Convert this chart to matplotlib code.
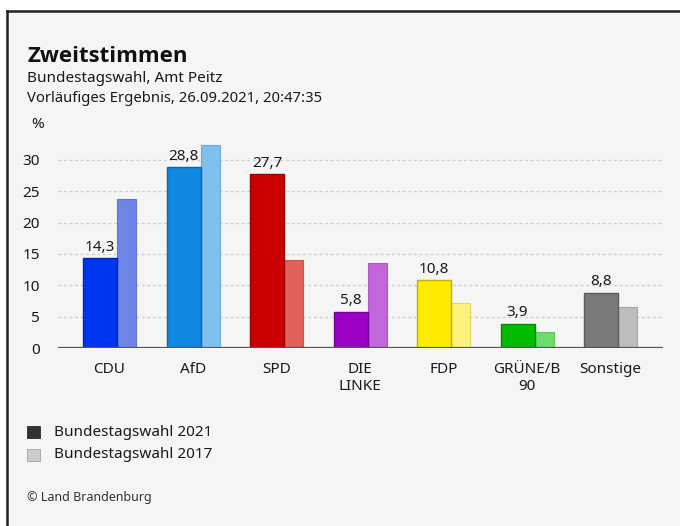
import matplotlib
matplotlib.use("Agg")
import matplotlib.pyplot as plt
import matplotlib.colors as mcolors
from matplotlib.patches import Rectangle
from matplotlib.lines import Line2D
import numpy as np

parties = ["CDU", "AfD", "SPD", "DIE\nLINKE", "FDP", "GRÜNE/B\n90", "Sonstige"]
votes_2021 = [14.3, 28.8, 27.7, 5.8, 10.8, 3.9, 8.8]
votes_2017 = [23.7, 32.4, 14.1, 13.6, 7.2, 2.5, 6.6]
labels_2021 = ["14,3", "28,8", "27,7", "5,8", "10,8", "3,9", "8,8"]
colors_2021 = ["#0035f0", "#1088df", "#cc0000", "#9a00c6", "#ffeb00", "#00bb00", "#7a7a7a"]
colors_2017 = ["#6e85e6", "#80c0ee", "#e0605a", "#c266dc", "#fff17a", "#6cdc6c", "#bdbdbd"]
yticks = [0, 5, 10, 15, 20, 25, 30]

plt.rcParams["font.family"] = ["Noto Sans", "DejaVu Sans"]
W, H = 680, 526
fig = plt.figure(figsize=(W / 100, H / 100), dpi=100, facecolor="white")

# panel background + frame (top and left edges only)
fig.patches.append(Rectangle((7 / W, 0), 1 - 7 / W, 1 - 11 / H, transform=fig.transFigure,
                             facecolor="#f5f5f5", edgecolor="none", zorder=-10))
fig.lines.append(Line2D([7 / W, 1], [1 - 11 / H] * 2, transform=fig.transFigure, color="#222222", lw=1.8))
fig.lines.append(Line2D([7 / W] * 2, [0, 1 - 11 / H], transform=fig.transFigure, color="#222222", lw=1.8))


def darker(c, f=0.75):
    r, g, b = mcolors.to_rgb(c)
    return (r * f, g * f, b * f)


px = 6.27  # pixels per percent
ymax = 33
ax = fig.add_axes([58 / W, 1 - 348 / H, 605 / W, ymax * px / H])
ax.set_facecolor("none")
ax.set_xlim(-0.617, -0.617 + 605 / 83.5)
ax.set_ylim(0, ymax)

x = np.arange(len(parties))
w21, w17 = 0.407, 0.228
for i in range(len(parties)):
    ax.bar(x[i] - 0.317, votes_2021[i], width=w21, align="edge", color=colors_2021[i],
           edgecolor=darker(colors_2021[i]), lw=1, zorder=3)
    ax.bar(x[i] + 0.090, votes_2017[i], width=w17, align="edge", color=colors_2017[i],
           edgecolor=darker(colors_2017[i], 0.88), lw=0.8, zorder=2)
    ax.text(x[i] - 0.317 + w21 / 2, votes_2021[i] + 0.6, labels_2021[i], ha="center", va="bottom",
            fontsize=11, color="#1a1a1a", zorder=4)

for t in yticks[1:]:
    ax.axhline(t, color="#cfcfcf", lw=1, ls=(0, (2, 2)), zorder=1)
ax.axhline(0, color="#555555", lw=1.6, zorder=4)

for s in ax.spines.values():
    s.set_visible(False)
ax.set_yticks(yticks)
ax.set_yticklabels([str(t) for t in yticks], fontsize=11, color="#1a1a1a")
ax.tick_params(axis="y", length=0, pad=13)
ax.set_xticks(x)
ax.set_xticklabels(parties, fontsize=11, color="#1a1a1a", linespacing=1.15)
ax.tick_params(axis="x", length=0, pad=10)

# titles
fig.text(27 / W, 1 - 62 / H, "Zweitstimmen", fontsize=16, fontweight="bold", color="#111111",
         va="baseline", family=["Open Sans", "DejaVu Sans"])
fig.text(27 / W, 1 - 82 / H, "Bundestagswahl, Amt Peitz", fontsize=11, color="#1a1a1a", va="baseline")
fig.text(27 / W, 1 - 102 / H, "Vorläufiges Ergebnis, 26.09.2021, 20:47:35", fontsize=10.7, color="#1a1a1a", va="baseline")
fig.text(31 / W, 1 - 128 / H, "%", fontsize=11, color="#1a1a1a", va="baseline")

# legend
for yy, col, lab in [(432, "#333333", "Bundestagswahl 2021"), (455, "#cccccc", "Bundestagswahl 2017")]:
    fig.patches.append(Rectangle((27 / W, 1 - (yy + 6) / H), 13 / W, 12 / H, transform=fig.transFigure,
                                 facecolor=col, edgecolor=darker(col, 0.8), lw=0.6))
    fig.text(54 / W, 1 - yy / H, lab, fontsize=11, color="#1a1a1a", va="center")

fig.text(27 / W, 1 - 497 / H, "© Land Brandenburg", fontsize=9, color="#333333", va="center")

fig.savefig("out.png", dpi=100, facecolor=fig.get_facecolor())
